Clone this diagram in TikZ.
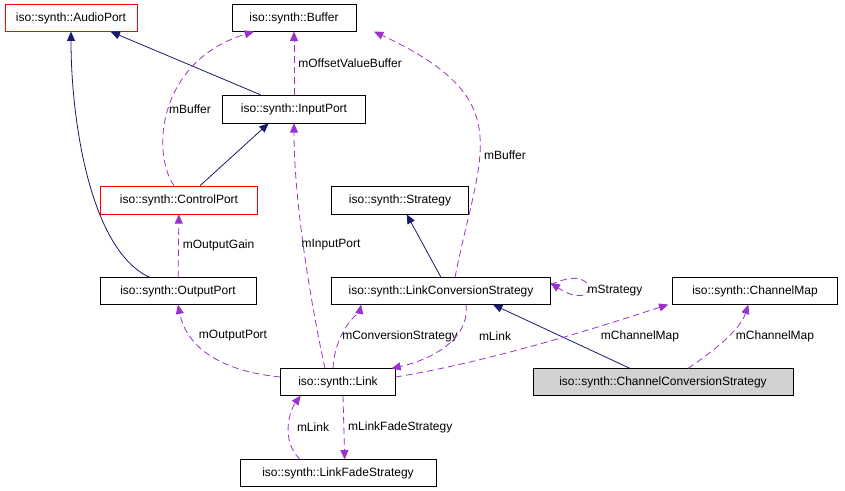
\documentclass[tikz,border=0pt]{standalone}
\usepackage{fontspec}
\setmainfont{Liberation Sans}
\usetikzlibrary{arrows.meta}
\definecolor{inherit}{HTML}{191970}
\definecolor{usage}{HTML}{9A32CD}
\tikzset{
  cls/.style={draw=black,fill=white,inner sep=0pt,font=\fontsize{9}{10}\selectfont},
  redcls/.style={cls,draw=red},
  base/.style={-{Triangle[length=7pt,width=6pt]},draw=inherit,line width=0.6pt},
  uses/.style={-{Triangle[length=7pt,width=6pt,sep=0pt]},draw=usage,line width=0.6pt,dash pattern=on 5pt off 3pt},
  lbl/.style={font=\fontsize{9}{10}\selectfont,inner sep=1pt}
}
\begin{document}
\begin{tikzpicture}[x=0.75pt,y=-0.75pt]
		\useasboundingbox (0,0) rectangle (845,491);
		
		\node[redcls,minimum width=99pt,minimum height=20pt] (audio) at (71,18) {iso::synth::AudioPort};
		\node[cls,minimum width=93pt,minimum height=20pt] (buffer) at (294,18) {iso::synth::Buffer};
		\node[cls,minimum width=107pt,minimum height=21pt] (input) at (294,109) {iso::synth::InputPort};
		\node[redcls,minimum width=118pt,minimum height=21pt] (control) at (179,200) {iso::synth::ControlPort};
		\node[cls,minimum width=103pt,minimum height=21pt] (strategy) at (400,200) {iso::synth::Strategy};
		\node[cls,minimum width=117pt,minimum height=20pt] (output) at (178,291) {iso::synth::OutputPort};
		\node[cls,minimum width=164pt,minimum height=20pt] (lcs) at (441,291) {iso::synth::LinkConversionStrategy};
		\node[cls,minimum width=124pt,minimum height=20pt] (chmap) at (755,291) {iso::synth::ChannelMap};
		\node[cls,fill=lightgray!70,minimum width=195pt,minimum height=20pt] (ccs) at (663,382) {iso::synth::ChannelConversionStrategy};
		\node[cls,minimum width=86pt,minimum height=20pt] (link) at (338,382) {iso::synth::Link};
		\node[cls,minimum width=147pt,minimum height=20pt] (fade) at (338,473) {iso::synth::LinkFadeStrategy};
		
		% inheritance
		\draw[base] (input.north west) ++(38,0) -- ([xshift=-20]audio.south east);
		\draw[base] (output.north west) ++(50,0) .. controls (90,250) and (71,120) .. (audio.south);
		\draw[base] (control.north) ++(21,0) -- ([xshift=-19]input.south);
		\draw[base] (lcs.north) -- ([xshift=5]strategy.south);
		\draw[base] (ccs.north) ++(-33,0) -- ([xshift=39]lcs.south);
		
		% usage
		\draw[uses] (input) -- node[lbl,pos=0.5,right=2pt] {mOffsetValueBuffer} (buffer);
		\draw[uses] (control.north) ++(-5,0) .. controls (150,150) and (160,60) .. ([xshift=-30]buffer.south);
		\node[lbl] (lblbuf1) at (190,109) {mBuffer};
		\draw[uses] (lcs.north) ++(14,0) .. controls (480,150) and (520,100) .. ([xshift=60]buffer.south);
		\node[lbl] (lblbuf2) at (505,155) {mBuffer};
		\draw[uses] (output) -- node[lbl,right=2pt] {mOutputGain} (control);
		\draw[uses] (link.north) ++(-13,0) .. controls (310,300) and (294,200) .. (input.south);
		\node[lbl] (lblin) at (331,245) {mInputPort};
		\draw[uses] (lcs.east) ++(0,-6) .. controls (600,260) and (600,315) .. ([yshift=6]lcs.east);
		\node[lbl] (lblstr) at (615,291) {mStrategy};
		\draw[uses] (link.west) ++(0,-5) .. controls (210,370) and (185,340) .. (output.south);
		\node[lbl] (lblout) at (233,336) {mOutputPort};
		\draw[uses] (link.north) ++(-5,0) .. controls (335,330) and (360,310) .. ([xshift=-60]lcs.south);
		\node[lbl] (lblconv) at (400,336) {mConversionStrategy};
		\draw[uses] (lcs.south) ++(25,0) .. controls (470,340) and (430,360) .. ([xshift=40]link.north);
		\node[lbl] (lbllink) at (495,336) {mLink};
		\draw[uses] (link.east) ++(0,-5) .. controls (500,360) and (620,320) .. ([xshift=-65]chmap.south);
		\node[lbl] (lblcm1) at (640,336) {mChannelMap};
		\draw[uses] (ccs.north) ++(25,0) .. controls (715,350) and (740,330) .. ([xshift=-5]chmap.south);
		\node[lbl] (lblcm2) at (775,336) {mChannelMap};
		\draw[uses] (link.south) ++(5,0) -- node[lbl,right=2pt] {mLinkFadeStrategy} ([xshift=5]fade.north);
		\draw[uses] (fade.north) ++(-38,0) .. controls (280,440) and (290,410) .. ([xshift=-28]link.south);
		\node[lbl] (lbllink2) at (313,427) {mLink};
\end{tikzpicture}
\end{document}
